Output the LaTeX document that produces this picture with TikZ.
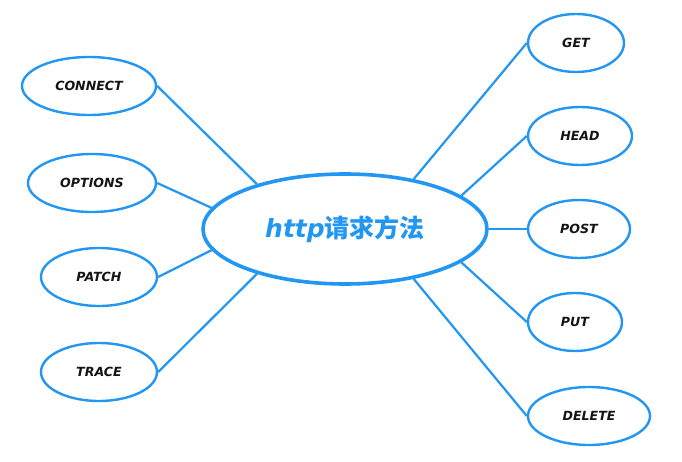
\documentclass[tikz,border=0pt]{standalone}
\usepackage{fontspec}
\usetikzlibrary{shapes.geometric}
\setmainfont{DejaVu Sans}
\newfontfamily\cjk{Noto Sans CJK SC}
\definecolor{mapblue}{HTML}{2196F3}
\definecolor{ink}{HTML}{141414}

\begin{document}
\begin{tikzpicture}[
    % one unit is one pixel of the 682x462 picture, y going down
    x=1pt, y=-1pt,
    % Define styles for the elements
    hub_style/.style={ellipse, draw=mapblue, line width=3.6pt, fill=white,
      inner sep=0pt, minimum width=284pt, minimum height=110pt,
      text=mapblue, font=\fontsize{25}{27}\selectfont\bfseries},
    leaf_style/.style={ellipse, draw=mapblue, line width=2.4pt, fill=white,
      inner sep=0pt, minimum height=58pt, text=ink,
      font=\fontsize{12.6}{14}\selectfont\bfseries\itshape},
    link_style/.style={draw=mapblue, line width=2.2pt}
  ]

  % --- Step 1: fix the page to the size of the reference ---
  \useasboundingbox (0,0) rectangle (682,462);

  % --- Step 2: the central ellipse ---
  \node[hub_style] (hub) at (345,229) {\itshape http\cjk\upshape 请求方法};

  % --- Step 3: the methods on the left ---
  \node[leaf_style, minimum width=134pt] (connect) at (89,86)  {CONNECT};
  \node[leaf_style, minimum width=128pt] (options) at (92,183) {OPTIONS};
  \node[leaf_style, minimum width=116pt] (patch)   at (99,277) {PATCH};
  \node[leaf_style, minimum width=116pt] (trace)   at (99,372) {TRACE};

  % --- Step 4: the methods on the right ---
  \node[leaf_style, minimum width=96pt]  (get)    at (576,43)  {GET};
  \node[leaf_style, minimum width=104pt] (head)   at (580,136) {HEAD};
  \node[leaf_style, minimum width=102pt] (post)   at (579,229) {POST};
  \node[leaf_style, minimum width=94pt]  (put)    at (575,322) {PUT};
  \node[leaf_style, minimum width=122pt] (delete) at (589,416) {DELETE};

  % --- Step 5: connect every method to the centre ---
  \draw[link_style] (connect.east) -- (hub.153);
  \draw[link_style] (options.east) -- (hub.171);
  \draw[link_style] (patch.east)   -- (hub.189);
  \draw[link_style] (trace.east)   -- (hub.207);
  \draw[link_style] (get.west)     -- (hub.36);
  \draw[link_style] (head.west)    -- (hub.16);
  \draw[link_style] (post.west)    -- (hub.0);
  \draw[link_style] (put.west)     -- (hub.344);
  \draw[link_style] (delete.west)  -- (hub.324);

\end{tikzpicture}
\end{document}
